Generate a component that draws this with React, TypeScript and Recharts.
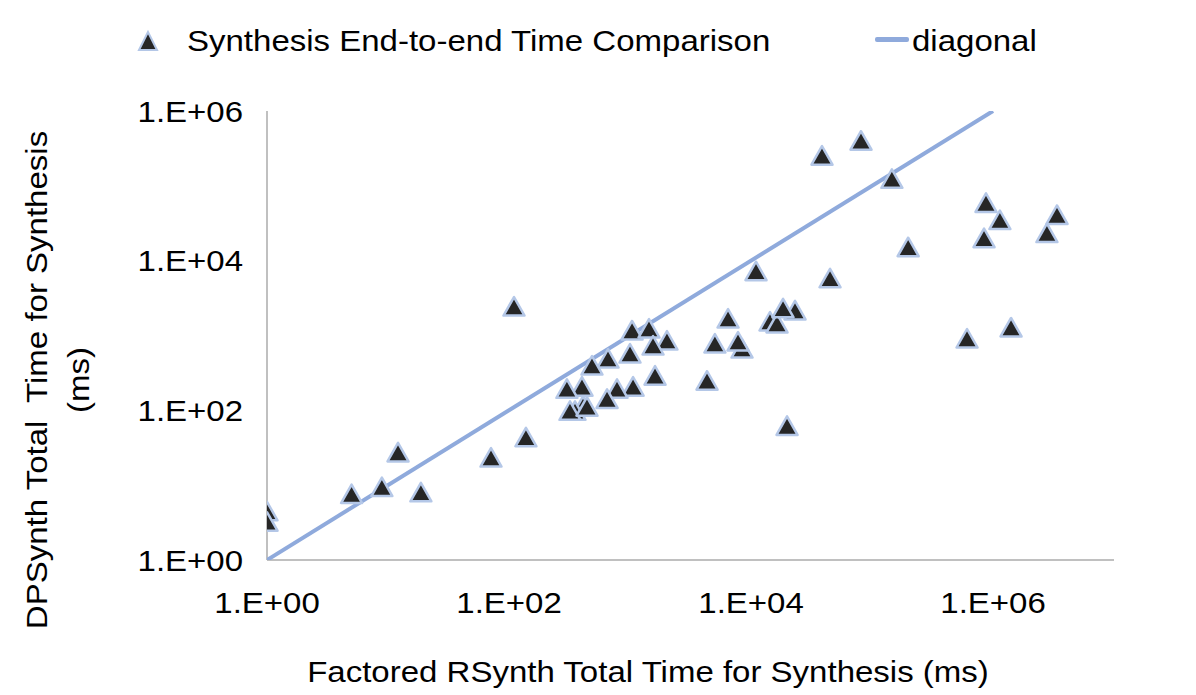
import React from "react"
import { ScatterChart, Scatter, XAxis, YAxis } from "recharts"

// Factored RSynth total time (ms), x axis
const rsynthMs = [
  1, 1, 5.0, 8.9, 12.1, 18.7, 71, 138, 110,
  1040, 1435, 2020, 1550, 1000, 658, 485, 1610, 1060, 781, 646, 401, 301, 409, 351, 319, 441,
  6460, 5030, 8430, 7810, 4330, 14350, 16400, 23100, 18400, 19850, 11000, 45000,
  38600, 81100, 146000, 199000, 875000, 1140000, 843000, 3380000, 2790000, 610000, 1410000,
]

// DPSynth total time (ms), y axis
const dpsynthMs = [
  4.4, 3.2, 7.5, 9.3, 27, 7.9, 23, 43, 2400,
  1150, 1220, 843, 724, 565, 484, 390, 286, 204, 191, 140, 204, 191, 113, 97, 97, 110,
  1660, 769, 659, 818, 245, 1515, 1426, 2130, 2270, 61, 7120, 5730,
  249000, 395000, 122000, 14900, 58200, 34400, 19700, 40200, 23000, 898, 1260,
]

const diagonalX = [1, 1000000]
const xTicks = [1, 100, 10000, 1000000]
const yTicks = [1, 100, 10000, 1000000]

const points = rsynthMs.map((x, i) => ({ x, y: dpsynthMs[i] }))
const diagonal = diagonalX.map((v) => ({ x: v, y: v }))

const FONT = "'Liberation Sans', Arial, sans-serif"
const FONT_SIZE = 30
const STRETCH = 1.1 // the original text is a bit wide
const MARKER_FILL = "#262626"
const MARKER_EDGE = "#b4c7e7"
const LINE_COLOR = "#8faadc"

function formatExp(v: number) {
  const e = Math.round(Math.log10(v))
  return `1.E+${String(e).padStart(2, "0")}`
}

// eslint-disable-next-line @typescript-eslint/no-explicit-any
function Triangle({ cx, cy }: any) {
  if (cx == null || cy == null) return <g />
  return (
    <polygon
      points={`${cx},${cy - 10} ${cx - 10.5},${cy + 8.5} ${cx + 10.5},${cy + 8.5}`}
      fill={MARKER_FILL}
      stroke={MARKER_EDGE}
      strokeWidth={2.5}
      strokeLinejoin="round"
    />
  )
}

// eslint-disable-next-line @typescript-eslint/no-explicit-any
function XTick({ x, y, payload }: any) {
  return (
    <g transform={`translate(${x},${y})`}>
      <text transform={`scale(${STRETCH},1)`} textAnchor="middle" dy="0.71em" fontSize={FONT_SIZE} fontFamily={FONT} fill="#000">
        {formatExp(payload.value)}
      </text>
    </g>
  )
}

// eslint-disable-next-line @typescript-eslint/no-explicit-any
function YTick({ x, y, payload }: any) {
  return (
    <g transform={`translate(${x},${y})`}>
      <text transform={`scale(${STRETCH},1)`} textAnchor="end" dy="0.36em" fontSize={FONT_SIZE} fontFamily={FONT} fill="#000">
        {formatExp(payload.value)}
      </text>
    </g>
  )
}

const textStyle: React.CSSProperties = {
  position: "absolute",
  fontFamily: FONT,
  fontSize: FONT_SIZE,
  whiteSpace: "nowrap",
  color: "#000",
  transformOrigin: "0 50%",
  transform: `scaleX(${STRETCH})`,
  lineHeight: "34px",
}

function TopLegend() {
  return (
    <div style={{ position: "absolute", left: 0, top: 0, width: 1196, height: 90 }}>
      <svg style={{ position: "absolute", left: 135, top: 29 }} width={26} height={26}>
        <polygon points="13,3 4,21 22,21" fill={MARKER_FILL} stroke={MARKER_EDGE} strokeWidth={2} />
      </svg>
      <span style={{ ...textStyle, left: 187, top: 24 }}>Synthesis End-to-end Time Comparison</span>
      <div style={{ position: "absolute", left: 875, top: 37, width: 34, height: 5, background: LINE_COLOR, borderRadius: 2 }} />
      <span style={{ ...textStyle, left: 912, top: 24 }}>diagonal</span>
    </div>
  )
}

export default function App() {
  return (
    <div style={{ position: "absolute", left: 0, top: 0, width: 1196, height: 695, background: "#fff" }}>
      <ScatterChart width={1196} height={695} margin={{ top: 111, right: 82, bottom: 0, left: 0 }}>
        <XAxis
          type="number"
          dataKey="x"
          scale="log"
          domain={[1, 10000000]}
          ticks={xTicks}
          allowDataOverflow
          tick={<XTick />}
          tickLine={false}
          tickSize={0}
          tickMargin={32}
          height={135}
          axisLine={{ stroke: "#c0c0c0", strokeWidth: 2 }}
        />
        <YAxis
          type="number"
          dataKey="y"
          scale="log"
          domain={[1, 1000000]}
          ticks={yTicks}
          allowDataOverflow
          tick={<YTick />}
          tickLine={false}
          tickSize={0}
          tickMargin={24}
          width={267}
          axisLine={{ stroke: "#c0c0c0", strokeWidth: 2 }}
        />
        <Scatter
          name="diagonal"
          data={diagonal}
          line={{ stroke: LINE_COLOR, strokeWidth: 4 }}
          lineType="joint"
          shape={() => <g />}
          isAnimationActive={false}
        />
        <Scatter
          name="Synthesis End-to-end Time Comparison"
          data={points}
          shape={<Triangle />}
          isAnimationActive={false}
        />
      </ScatterChart>
      <TopLegend />
      <div
        style={{
          ...textStyle,
          left: 648,
          top: 672,
          transformOrigin: "50% 50%",
          transform: `translate(-50%, -50%) scaleX(${STRETCH})`,
        }}
      >
        Factored RSynth Total Time for Synthesis (ms)
      </div>
      <div
        style={{
          ...textStyle,
          left: 58,
          top: 380,
          transformOrigin: "50% 50%",
          transform: `translate(-50%, -50%) rotate(-90deg) scaleX(${STRETCH})`,
          lineHeight: "42px",
          textAlign: "center",
          whiteSpace: "pre",
        }}
      >
        {"DPSynth Total  Time for Synthesis\n(ms)"}
      </div>
    </div>
  )
}
